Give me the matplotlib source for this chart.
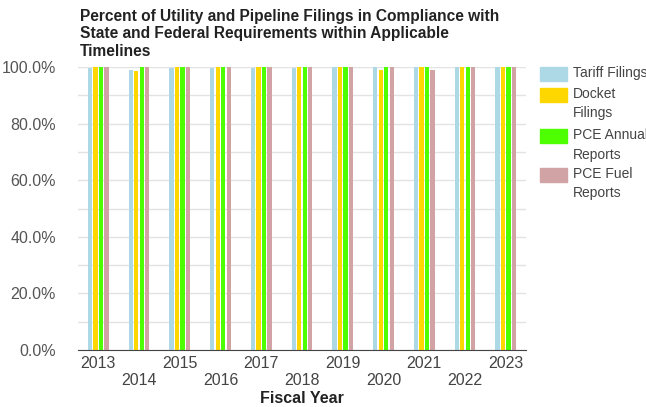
#!/usr/bin/python

import numpy as np
import matplotlib.pyplot as plt
import matplotlib as mpl
from matplotlib.patches import Rectangle

plt.rcParams['font.family'] = ['Liberation Sans', 'DejaVu Sans']

years = ['2013', '2014', '2015', '2016', '2017', '2018', '2019', '2020', '2021', '2022', '2023']
tariff_filings = [99.5, 99.1, 99.5, 99.5, 99.5, 99.5, 100, 100, 100, 100, 100]
docket_filings = [100, 98.6, 100, 100, 100, 100, 100, 99.1, 100, 100, 100]
pce_annual = [100, 100, 100, 100, 100, 100, 100, 100, 100, 100, 100]
pce_fuel = [100, 100, 100, 100, 100, 100, 100, 100, 99.1, 100, 100]

series_names = ['Tariff Filings', 'Docket\nFilings', 'PCE Annual\nReports', 'PCE Fuel\nReports']
series_colors = ['#add8e6', '#ffd700', '#4dff00', '#d2a3a5']


def plot_chart():
    W, H = 646.0, 407.0
    fig = plt.figure(figsize=(6.46, 4.07), dpi=100)
    ax = fig.add_axes([78 / W, 1 - 350 / H, 448 / W, 283 / H])

    x = np.arange(len(years))
    step = 0.135
    width = 0.105
    all_series = [tariff_filings, docket_filings, pce_annual, pce_fuel]
    for i, vals in enumerate(all_series):
        ax.bar(x + (i - 1.5) * step, vals, width, color=series_colors[i], zorder=2)

    ax.set_xlim(-0.5, len(years) - 0.5)
    ax.set_ylim(0, 100)
    ax.set_yticks(np.arange(0, 101, 20))
    ax.set_yticklabels(['%.1f%%' % v for v in np.arange(0, 101, 20)])
    ax.set_yticks(np.arange(0, 101, 10), minor=True)
    ax.grid(axis='y', which='both', color='#e3e3e3', linewidth=1, zorder=0)
    ax.tick_params(axis='y', which='both', length=0, labelsize=11.5,
                   labelcolor='#555555', pad=16)

    ax.set_xticks(x)
    labels = [y if i % 2 == 0 else '\n' + y for i, y in enumerate(years)]
    ax.set_xticklabels(labels, fontsize=11.5, color='#444444', linespacing=1.2)
    ax.tick_params(axis='x', length=0, pad=4)

    for side in ['top', 'right', 'left']:
        ax.spines[side].set_visible(False)
    ax.spines['bottom'].set_color('#444444')

    ax.set_xlabel('Fiscal Year', fontsize=11.5, fontweight='bold', color='#222222', labelpad=2)

    fig.text(80 / W, 1 - 9 / H,
             'Percent of Utility and Pipeline Filings in Compliance with\n'
             'State and Federal Requirements within Applicable\nTimelines',
             fontsize=11.2, fontweight='bold', va='top', ha='left',
             color='#222222', linespacing=1.2)

    # legend drawn by hand so the wrapped labels sit like the original
    patch_tops = [67, 88, 129, 168]
    for i in range(len(series_names)):
        top = patch_tops[i]
        fig.patches.append(Rectangle((540 / W, 1 - (top + 14) / H), 27 / W, 14 / H,
                                     transform=fig.transFigure, color=series_colors[i]))
        fig.text(573 / W, 1 - (top - 1) / H, series_names[i], fontsize=10,
                 color='#444444', va='top', ha='left', linespacing=1.5)

    fig.savefig('out.png', dpi=100)


def main():
    plot_chart()


if __name__ == "__main__":
    main()
